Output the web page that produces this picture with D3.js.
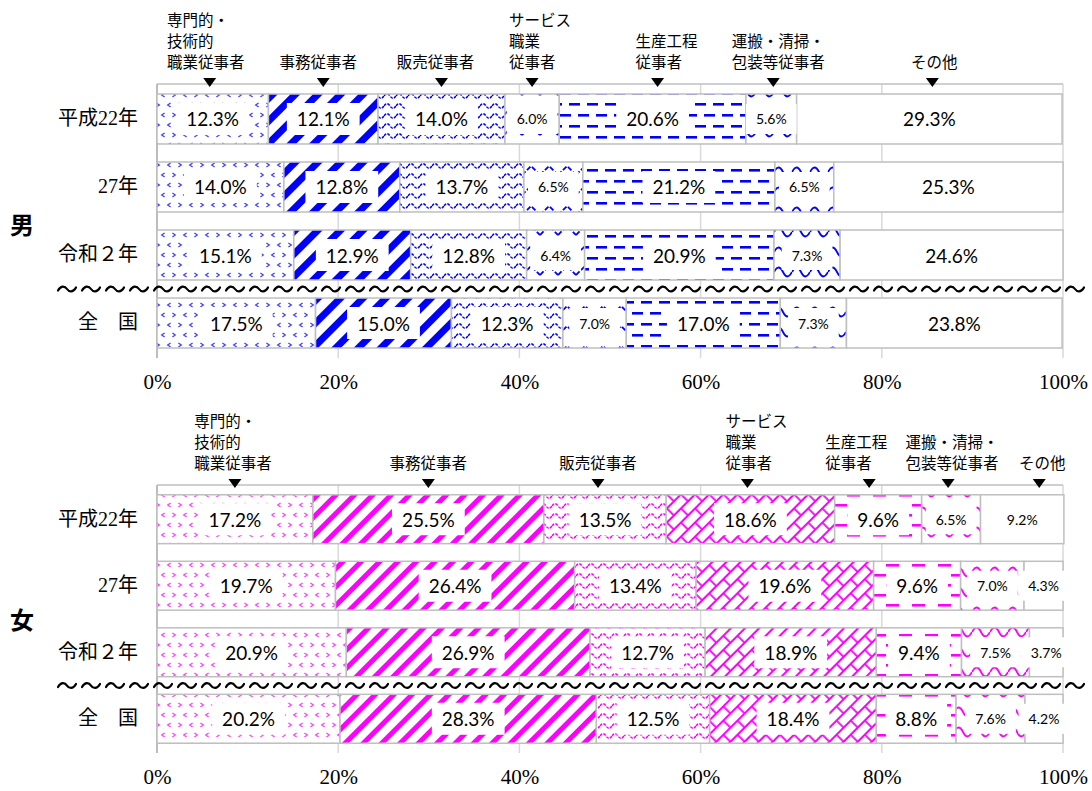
<!DOCTYPE html>
<html>
<head>
<meta charset="utf-8">
<script src="https://cdn.jsdelivr.net/npm/d3@7"></script>
<style>
body { margin: 0; background: #fff; }
svg { display: block; font-family: "Noto Sans CJK JP", sans-serif; }
</style>
</head>
<body>
<svg id="chart" width="1092" height="791"></svg>
<script>
// rows and categories
var rowLabels = ["平成22年", "27年", "令和２年", "全　国"];
var categories = ["専門的・技術的職業従事者", "事務従事者", "販売従事者", "サービス職業従事者",
    "生産工程従事者", "運搬・清掃・包装等従事者", "その他"];
var maleHeadLines = [["専門的・", "技術的", "職業従事者"], ["事務従事者"], ["販売従事者"],
    ["サービス", "職業", "従事者"], ["生産工程", "従事者"], ["運搬・清掃・", "包装等従事者"], ["その他"]];
var femaleHeadLines = [["専門的・", "技術的", "職業従事者"], ["事務従事者"], ["販売従事者"],
    ["サービス", "職業", "従事者"], ["生産工程", "従事者"], ["運搬・清掃・", "包装等従事者"], ["その他"]];

// male (%)
var maleH22 = [12.3, 12.1, 14.0, 6.0, 20.6, 5.6, 29.3];
var male27 = [14.0, 12.8, 13.7, 6.5, 21.2, 6.5, 25.3];
var maleR2 = [15.1, 12.9, 12.8, 6.4, 20.9, 7.3, 24.6];
var maleNation = [17.5, 15.0, 12.3, 7.0, 17.0, 7.3, 23.8];

// female (%)
var femaleH22 = [17.2, 25.5, 13.5, 18.6, 9.6, 6.5, 9.2];
var female27 = [19.7, 26.4, 13.4, 19.6, 9.6, 7.0, 4.3];
var femaleR2 = [20.9, 26.9, 12.7, 18.9, 9.4, 7.5, 3.7];
var femaleNation = [20.2, 28.3, 12.5, 18.4, 8.8, 7.6, 4.2];

var xTicks = [0, 20, 40, 60, 80, 100];

var svg = d3.select("#chart");
var defs = svg.append("defs");
var x = d3.scaleLinear().domain([0, 100]).range([157, 1063]);

function addPattern(id, w, h, transform) {
    var p = defs.append("pattern")
        .attr("id", id)
        .attr("patternUnits", "userSpaceOnUse")
        .attr("width", w)
        .attr("height", h);
    if (transform) p.attr("patternTransform", transform);
    p.append("rect").attr("width", w).attr("height", h).attr("fill", "#fff");
    return p;
}

function makePatterns(prefix, color, female) {
    // small < > marks
    var p0 = addPattern(prefix + "0", 22, 20);
    [[4, 5, 1], [15, 5, -1], [9, 15, -1], [20, 15, 1]].forEach(function (m) {
        var cx = m[0], cy = m[1], d = m[2];
        p0.append("path")
            .attr("d", "M" + (cx - 1.6 * d) + "," + (cy - 2) + "L" + (cx + 1.3 * d) + "," + cy +
                "L" + (cx - 1.6 * d) + "," + (cy + 2))
            .attr("fill", "none").attr("stroke", color).attr("stroke-width", 1.3)
            .attr("stroke-opacity", 0.75);
    });

    // wide diagonal stripes
    var sw = female ? 13 : 16;
    var p1 = addPattern(prefix + "1", sw, sw, "rotate(45)");
    p1.append("rect").attr("width", female ? 5 : 7).attr("height", sw).attr("fill", color);

    // small waves
    var p2 = addPattern(prefix + "2", 12, 10);
    p2.append("path").attr("d", "M0,6 Q3,1.5 6,6 T12,6")
        .attr("fill", "none").attr("stroke", color).attr("stroke-width", 1.5)
        .attr("stroke-dasharray", "3 1.2");

    // service: zigzag (male) / diagonal brick (female)
    if (female) {
        var p3 = addPattern(prefix + "3", 20, 20, "rotate(-45)");
        p3.append("path")
            .attr("d", "M0,1H20M0,11H20M2,1V11M12,11V21")
            .attr("fill", "none").attr("stroke", color).attr("stroke-width", 1.8);
    } else {
        var p3m = addPattern(prefix + "3", 18, 20);
        p3m.append("path").attr("d", "M0,15 L9,6 L18,15")
            .attr("fill", "none").attr("stroke", color).attr("stroke-width", 1.8)
            .attr("stroke-dasharray", "5 2");
    }

    // dashed horizontal
    if (female) {
        var p4f = addPattern(prefix + "4", 26, 20);
        p4f.append("rect").attr("x", 2).attr("y", 4).attr("width", 13).attr("height", 2.6).attr("fill", color);
        p4f.append("rect").attr("x", 15).attr("y", 14).attr("width", 13).attr("height", 2.6).attr("fill", color);
        p4f.append("rect").attr("x", -11).attr("y", 14).attr("width", 13).attr("height", 2.6).attr("fill", color);
    } else {
        var p4 = addPattern(prefix + "4", 18, 22);
        p4.append("rect").attr("x", 2).attr("y", 4).attr("width", 11).attr("height", 2.6).attr("fill", color);
        p4.append("rect").attr("x", 11).attr("y", 15).attr("width", 11).attr("height", 2.6).attr("fill", color);
        p4.append("rect").attr("x", -7).attr("y", 15).attr("width", 11).attr("height", 2.6).attr("fill", color);
    }

    // large waves
    var p5 = addPattern(prefix + "5", 18, 20);
    p5.append("path").attr("d", "M0,12 Q4.5,3 9,12 T18,12")
        .attr("fill", "none").attr("stroke", color).attr("stroke-width", 1.8);
}

makePatterns("pm", "#0000ff", false);
makePatterns("pf", "#ff00ff", true);

function drawPanel(o) {
    var g = svg.append("g");
    var y = d3.scaleBand().domain(rowLabels).range([o.top, o.bottom])
        .paddingInner(0.265).paddingOuter(0.147);

    // grid
    g.selectAll("line.grid").data(xTicks).join("line")
        .attr("x1", function (d) { return x(d); })
        .attr("x2", function (d) { return x(d); })
        .attr("y1", o.top).attr("y2", o.bottom)
        .attr("stroke", function (d) { return d === 0 ? "#a6a6a6" : "#d9d9d9"; })
        .attr("stroke-width", 1.5);
    g.append("line")
        .attr("x1", x(0)).attr("x2", x(100))
        .attr("y1", o.top).attr("y2", o.top)
        .attr("stroke", "#bfbfbf").attr("stroke-width", 1.5);

    // segments
    var segs = [];
    o.rows.forEach(function (vals, i) {
        var cum = 0;
        vals.forEach(function (v, j) {
            segs.push({ row: rowLabels[i], cat: j, x0: cum, x1: cum + v, v: v });
            cum += v;
        });
    });

    g.selectAll("rect.seg").data(segs).join("rect")
        .attr("x", function (d) { return x(d.x0); })
        .attr("y", function (d) { return y(d.row); })
        .attr("width", function (d) { return x(d.x1) - x(d.x0); })
        .attr("height", y.bandwidth())
        .attr("fill", function (d) { return d.cat < 6 ? "url(#" + o.prefix + d.cat + ")" : "#fff"; })
        .attr("stroke", "#bfbfbf")
        .attr("stroke-width", 1.5);

    // value labels
    var lab = g.selectAll("g.lab").data(segs).join("g")
        .attr("transform", function (d) {
            return "translate(" + x((d.x0 + d.x1) / 2) + "," + (y(d.row) + y.bandwidth() / 2) + ")";
        });
    lab.each(function (d) {
        var el = d3.select(this);
        var small = o.small.indexOf(d.cat) >= 0;
        var t = el.append("text")
            .attr("text-anchor", "middle")
            .attr("dominant-baseline", "central")
            .attr("font-family", "Lato, 'Open Sans', sans-serif")
            .attr("font-size", small ? 14 : 19)
            .attr("fill", "#000")
            .text(d.v.toFixed(1) + "%");
        var w = t.node().getComputedTextLength() + 20;
        var h = small ? 30 : 32;
        el.insert("rect", "text")
            .attr("x", -w / 2).attr("y", -h / 2)
            .attr("width", w).attr("height", h)
            .attr("fill", "#fff");
    });

    // separator before 全国
    var sepY = (y(rowLabels[2]) + y.bandwidth() + y(rowLabels[3])) / 2;
    var wave = d3.range(58, 1080, 24).map(function (x0) {
        return "M" + x0 + "," + (sepY + 1.5) +
            "C" + (x0 + 3) + "," + (sepY - 4) + " " + (x0 + 7) + "," + (sepY - 3) + " " + (x0 + 9) + "," + sepY +
            "S" + (x0 + 15) + "," + (sepY + 4) + " " + (x0 + 18) + "," + (sepY - 1.5);
    }).join("");
    g.append("path").attr("d", wave)
        .attr("fill", "none").attr("stroke", "#000").attr("stroke-width", 2.2)
        .attr("stroke-linecap", "round");

    // axes
    var xa = g.append("g").attr("transform", "translate(0," + o.bottom + ")")
        .call(d3.axisBottom(x).tickValues(xTicks).tickFormat(function (d) { return d + "%"; })
            .tickSize(0).tickPadding(16));
    xa.select(".domain").remove();
    xa.selectAll("text")
        .attr("font-family", "'Liberation Serif', 'DejaVu Serif', serif")
        .attr("font-size", 21).attr("fill", "#000");

    var ya = g.append("g").attr("transform", "translate(" + x(0) + ",0)")
        .call(d3.axisLeft(y).tickSize(0).tickPadding(19));
    ya.select(".domain").remove();
    ya.selectAll("text")
        .attr("font-family", "'Liberation Serif', 'Noto Sans CJK JP', serif")
        .attr("font-size", 20).attr("fill", "#000");

    // category heads with markers (over the first row's segments)
    var first = segs.filter(function (d) { return d.row === rowLabels[0]; });
    first.forEach(function (d, j) {
        var mx = x((d.x0 + d.x1) / 2) + o.nudge[j];
        g.append("path")
            .attr("d", "M" + (mx - 6.5) + "," + (o.top - 6) + "L" + (mx + 6.5) + "," + (o.top - 6) +
                "L" + mx + "," + (o.top + 3) + "Z")
            .attr("fill", "#000");
        var lines = o.heads[j];
        var maxLen = d3.max(lines, function (s) { return s.length; });
        var lx = mx - maxLen * 15.5 / 2 + o.shift[j];
        lines.forEach(function (s, k) {
            g.append("text")
                .attr("x", lx)
                .attr("y", o.top - 16 - (lines.length - 1 - k) * 21)
                .attr("font-size", 15.5)
                .attr("fill", "#000")
                .text(s);
        });
    });

    g.append("text")
        .attr("x", 10).attr("y", o.sexY)
        .attr("font-size", 24).attr("font-weight", "bold")
        .attr("fill", "#000")
        .text(o.sex);
}

drawPanel({
    top: 84, bottom: 358,
    rows: [maleH22, male27, maleR2, maleNation],
    heads: maleHeadLines,
    prefix: "pm",
    small: [3, 5],
    nudge: [-3, 0, 0, 0, 5, 2, 3],
    shift: [-4, -5, -6, 8, 9, 5, 2],
    sex: "男", sexY: 234
});

drawPanel({
    top: 485, bottom: 753,
    rows: [femaleH22, female27, femaleR2, femaleNation],
    heads: femaleHeadLines,
    prefix: "pf",
    small: [5, 6],
    nudge: [0, 0, -7, -3, -9, -3, 17],
    shift: [-2, 0, 0, 9, -13, 4, 3],
    sex: "女", sexY: 629
});
</script>
</body>
</html>
